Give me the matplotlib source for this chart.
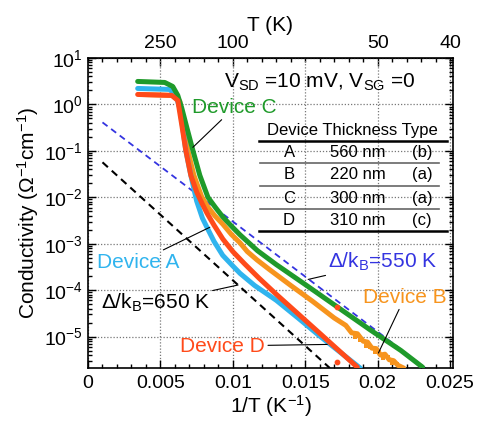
import numpy as np
import matplotlib
matplotlib.use('Agg')
import matplotlib.pyplot as plt
from matplotlib.ticker import MultipleLocator, LogLocator, NullFormatter

plt.rcParams['font.family'] = ['Liberation Sans', 'DejaVu Sans']
plt.rcParams['mathtext.fontset'] = 'custom'
plt.rcParams['mathtext.rm'] = 'Liberation Sans'
plt.rcParams['mathtext.it'] = 'Liberation Sans:italic'

# 1/T (K^-1) and log10(conductivity)
inv_t_a = [0.00343, 0.00564, 0.00606, 0.00634, 0.00654, 0.00675, 0.00710, 0.0075,
           0.0079, 0.0082, 0.0087, 0.0093, 0.0100, 0.0105, 0.0115, 0.0130, 0.0145,
           0.0160, 0.0175, 0.0188]
log_a = [0.344, 0.323, 0.194, -0.086, -0.495, -0.989, -1.527, -2.08,
         -2.45, -2.64, -2.95, -3.25, -3.48, -3.64, -3.90, -4.22, -4.60,
         -4.99, -5.36, -5.68]

inv_t_b = [0.00357, 0.00585, 0.00634, 0.00661, 0.00689, 0.00731, 0.00786, 0.0083,
           0.00876, 0.00931, 0.0099, 0.01049, 0.0110, 0.01167, 0.0125, 0.0140,
           0.0155, 0.0170, 0.0178, 0.0182, 0.0186, 0.0190, 0.0193, 0.0196,
           0.0199, 0.0202, 0.0205, 0.0208, 0.0211, 0.0214, 0.0218]
log_b = [0.215, 0.194, 0.065, -0.452, -0.989, -1.527, -2.0, -2.22,
         -2.40, -2.58, -2.80, -2.98, -3.17, -3.35, -3.55, -3.90,
         -4.24, -4.60, -4.76, -4.92, -4.94, -5.10, -5.12, -5.25,
         -5.26, -5.40, -5.38, -5.50, -5.52, -5.62, -5.68]

inv_t_c = [0.00343, 0.00530, 0.00585, 0.00620, 0.00648, 0.00682, 0.00724, 0.00772,
           0.00828, 0.0088, 0.0093, 0.0099, 0.0105, 0.0117, 0.0130, 0.0150,
           0.0172, 0.0195, 0.0216, 0.0231]
log_c = [0.495, 0.473, 0.387, 0.194, -0.086, -0.495, -0.989, -1.527,
         -2.0, -2.22, -2.42, -2.62, -2.81, -3.15, -3.45, -3.88,
         -4.36, -4.86, -5.30, -5.66]

inv_t_d = [0.00343, 0.00578, 0.00620, 0.00648, 0.00675, 0.00710, 0.00751, 0.0079,
           0.00821, 0.0087, 0.00931, 0.0100, 0.0108, 0.0118, 0.0130, 0.0145,
           0.0160, 0.01859]
log_d = [0.215, 0.194, 0.086, -0.452, -0.989, -1.527, -1.892, -2.15,
         -2.34, -2.60, -2.90, -3.17, -3.43, -3.74, -4.09, -4.51,
         -4.93, -5.66]

# stray points
noise_b_x = [0.0184, 0.0188, 0.0192, 0.0195, 0.0198, 0.0201, 0.0204, 0.0207, 0.0210, 0.0213]
noise_b_log = [-5.00, -5.08, -5.20, -5.22, -5.34, -5.33, -5.47, -5.44, -5.58, -5.60]
noise_d_x = [0.01718, 0.01716]
noise_d_log = [-4.366, -5.548]

# activation fits
fit550_x = [0.0010, 0.0233]
fit550_log = [-0.387, -5.68]
fit650_x = [0.0010, 0.0167]
fit650_log = [-1.247, -5.68]

top_ticks = [0.005, 0.01, 0.02, 0.025]
top_labels = ['250', '100', '50', '40']

tbl_device = ['A', 'B', 'C', 'D']
tbl_thick = ['560 nm', '220 nm', '300 nm', '310 nm']
tbl_type = ['(b)', '(a)', '(a)', '(c)']

GREEN = '#1f9a2a'
BLUE = '#30b4ee'
ORANGE = '#f7941d'
RED = '#ff4a1a'
DBLUE = '#3434e0'

fig = plt.figure(figsize=(4.81, 4.23), dpi=100)
ax = fig.add_axes([88 / 481, 1 - 368 / 423, 365 / 481, 310 / 423])

def sig(v):
    return 10 ** np.array(v)

ax.plot(fit650_x, sig(fit650_log), color='black', ls=(0, (3.5, 2.5)), lw=1.5, zorder=2)
ax.plot(fit550_x, sig(fit550_log), color=DBLUE, ls=(0, (3.5, 2.5)), lw=1.3, zorder=2)

lw = 3.6
ax.plot(inv_t_b, sig(log_b), color=ORANGE, lw=lw, solid_capstyle='round', zorder=3)
ax.scatter(noise_b_x, sig(noise_b_log), color=ORANGE, s=9, marker='s', lw=0, zorder=3)
ax.plot(inv_t_a, sig(log_a), color=BLUE, lw=lw, solid_capstyle='round', zorder=3)
ax.plot(inv_t_c, sig(log_c), color=GREEN, lw=lw, solid_capstyle='round', zorder=3)
ax.plot(inv_t_d, sig(log_d), color=RED, lw=lw, solid_capstyle='round', zorder=4)
ax.scatter(noise_d_x, sig(noise_d_log), color=RED, s=10, zorder=4)

ax.set_yscale('log')
ax.set_xlim(0, 0.0252)
ax.set_ylim(2.1e-6, 10)

ax.set_xticks([0, 0.005, 0.01, 0.015, 0.02, 0.025])
ax.set_xticklabels(['0', '0.005', '0.01', '0.015', '0.02', '0.025'])
ax.xaxis.set_minor_locator(MultipleLocator(0.001))
ax.yaxis.set_major_locator(LogLocator(base=10, numticks=20))
ax.yaxis.set_minor_locator(LogLocator(base=10, subs=np.arange(2, 10), numticks=20))
ax.yaxis.set_minor_formatter(NullFormatter())
ax.tick_params(which='both', direction='in', right=True, top=False, labelsize=14, width=1)
ax.tick_params(which='major', length=6)
ax.tick_params(which='minor', length=3)
ax.tick_params(axis='x', pad=5)
for s in ax.spines.values():
    s.set_linewidth(1.2)

ax.grid(True, which='major', ls=(0, (1, 1.5)), color='#777777', lw=0.9)
ax.set_axisbelow(True)

sec = ax.secondary_xaxis('top')
sec.set_xticks(top_ticks)
sec.set_xticklabels(top_labels)
sec.xaxis.set_minor_locator(MultipleLocator(0.001))
sec.tick_params(which='both', direction='in', labelsize=14, width=1)
sec.tick_params(which='major', length=6, pad=4)
sec.tick_params(which='minor', length=3)
sec.set_xlabel('T (K)', fontsize=15, labelpad=3)

ax.set_xlabel('1/T (K$^{-1}$)', fontsize=15, labelpad=1)
ax.set_ylabel('Conductivity ($\\Omega^{-1}$cm$^{-1}$)', fontsize=15, labelpad=2)

ax.text(0.01603, 2.97, 'V$_{\\mathregular{SD}}$ =10 mV, V$_{\\mathregular{SG}}$ =0',
        fontsize=15, ha='center', va='center')

arrow = dict(arrowstyle='-', color='black', lw=0.8, shrinkA=0, shrinkB=0)
ax.annotate('Device C', xy=(0.00724, 0.119), xytext=(0.01011, 0.862), color=GREEN,
            fontsize=15, ha='center', va='center', arrowprops=arrow)
ax.annotate('Device A', xy=(0.00841, 2.26e-3), xytext=(0.00346, 4.0e-4), color=BLUE,
            fontsize=15, ha='center', va='center', arrowprops=arrow)
ax.annotate('Δ/k$_{\\mathregular{B}}$=650 K', xy=(0.01036, 10 ** -3.89), xytext=(0.00464, 5.25e-5),
            color='black', fontsize=15, ha='center', va='center', arrowprops=arrow)
ax.annotate('Device D', xy=(0.01652, 10 ** -5.17), xytext=(0.00931, 6.25e-6), color=RED,
            fontsize=15, ha='center', va='center', arrowprops=arrow)
ax.annotate('Δ/k$_{\\mathregular{B}}$=550 K', xy=(0.0152, 10 ** -3.77), xytext=(0.02036, 4.0e-4),
            color=DBLUE, fontsize=15, ha='center', va='center', arrowprops=arrow)
ax.annotate('Device B', xy=(0.02005, 10 ** -5.355), xytext=(0.02188, 7.06e-5), color=ORANGE,
            fontsize=15, ha='center', va='center', arrowprops=arrow)

# table in axes coordinates
tr = ax.transAxes
ax.text(0.7247, 0.765, 'Device Thickness Type', transform=tr, fontsize=12,
        ha='center', va='center')
ax.plot([0.468, 0.984], [0.732, 0.732], transform=tr, color='black', lw=1.8, clip_on=False)
ax.plot([0.468, 0.984], [0.442, 0.442], transform=tr, color='black', lw=1.8, clip_on=False)
for yl in [0.661, 0.587, 0.513]:
    ax.plot([0.471, 0.962], [yl, yl], transform=tr, color='#666666', lw=1.2)
rows_y = [0.694, 0.623, 0.548, 0.477]
for yv, d, th, ty in zip(rows_y, tbl_device, tbl_thick, tbl_type):
    ax.text(0.551, yv, d, transform=tr, fontsize=12, ha='center', va='center')
    ax.text(0.740, yv, th, transform=tr, fontsize=12, ha='center', va='center')
    ax.text(0.915, yv, ty, transform=tr, fontsize=12, ha='center', va='center')

fig.savefig('out.png', dpi=100)
